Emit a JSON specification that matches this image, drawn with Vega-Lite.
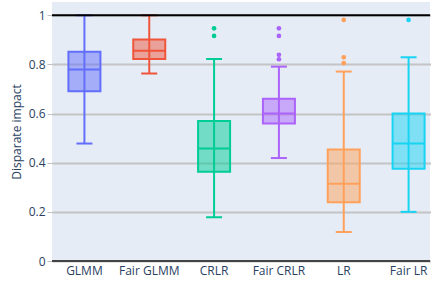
{
  "$schema": "https://vega.github.io/schema/vega-lite/v6.json",
  "autosize": {"type": "none"},
  "width": 378,
  "height": 259,
  "padding": {"left": 52, "top": 2, "right": 1, "bottom": 21},
  "background": "white",
  "config": {
    "view": {"fill": "#E5ECF6", "stroke": null},
    "font": "Open Sans",
    "axis": {"labelFont": "Open Sans", "titleFont": "Open Sans", "labelColor": "#2a3f5f", "titleColor": "#2a3f5f", "labelFontSize": 12, "titleFontSize": 12, "titleFontWeight": "normal"}
  },
  "datasets": {
    "boxes": [
      {"model": "GLMM", "lo": 0.478, "q1": 0.691, "med": 0.779, "q3": 0.852, "hi": 1.0},
      {"model": "Fair GLMM", "lo": 0.763, "q1": 0.822, "med": 0.856, "q3": 0.901, "hi": 1.0},
      {"model": "CRLR", "lo": 0.178, "q1": 0.363, "med": 0.458, "q3": 0.570, "hi": 0.822},
      {"model": "Fair CRLR", "lo": 0.419, "q1": 0.560, "med": 0.600, "q3": 0.660, "hi": 0.791},
      {"model": "LR", "lo": 0.118, "q1": 0.239, "med": 0.314, "q3": 0.454, "hi": 0.771},
      {"model": "Fair LR", "lo": 0.200, "q1": 0.375, "med": 0.478, "q3": 0.600, "hi": 0.829}
    ],
    "outliers": [
      {"model": "CRLR", "v": 0.947},
      {"model": "CRLR", "v": 0.916},
      {"model": "Fair CRLR", "v": 0.947},
      {"model": "Fair CRLR", "v": 0.916},
      {"model": "Fair CRLR", "v": 0.839},
      {"model": "Fair CRLR", "v": 0.821},
      {"model": "LR", "v": 0.981},
      {"model": "LR", "v": 0.829},
      {"model": "LR", "v": 0.805},
      {"model": "Fair LR", "v": 0.981}
    ],
    "lines": [
      {"y": 0, "kind": "zero"},
      {"y": 1, "kind": "one"}
    ]
  },
  "layer": [
    {
      "data": {"name": "boxes"},
      "mark": {"type": "rule", "strokeWidth": 2},
      "encoding": {
        "x": {"field": "model", "type": "nominal", "sort": null,
              "scale": {"range": [0, 389], "paddingInner": 0, "paddingOuter": 0},
              "axis": {"title": null, "domain": false, "ticks": false, "labelAngle": 0, "labelPadding": 4}},
        "y": {"field": "lo", "type": "quantitative",
              "scale": {"domain": [0, 1.054], "nice": false, "zero": false},
              "axis": {"title": "Disparate impact", "values": [0, 0.2, 0.4, 0.6, 0.8, 1], "format": ".1~f", "domain": false,
                       "tickColor": "#c0c0c0", "tickSize": 5, "tickWidth": 1, "labelPadding": 2,
                       "gridColor": "#c4c4c4", "gridWidth": 2, "titlePadding": 5}},
        "y2": {"field": "hi"},
        "color": {"field": "model", "type": "nominal", "sort": null, "legend": null,
                  "scale": {"domain": ["GLMM", "Fair GLMM", "CRLR", "Fair CRLR", "LR", "Fair LR"],
                            "range": ["#636efa", "#EF553B", "#00cc96", "#ab63fa", "#FFA15A", "#19d3f3"]}}
      }
    },
    {
      "data": {"name": "boxes"},
      "mark": {"type": "bar", "size": 32, "fillOpacity": 0.5, "strokeWidth": 2},
      "encoding": {
        "x": {"field": "model", "type": "nominal", "sort": null},
        "y": {"field": "q1", "type": "quantitative"},
        "y2": {"field": "q3"},
        "fill": {"field": "model", "type": "nominal", "sort": null, "legend": null,
                 "scale": {"domain": ["GLMM", "Fair GLMM", "CRLR", "Fair CRLR", "LR", "Fair LR"],
                           "range": ["#636efa", "#EF553B", "#00cc96", "#ab63fa", "#FFA15A", "#19d3f3"]}},
        "stroke": {"field": "model", "type": "nominal", "sort": null, "legend": null,
                   "scale": {"domain": ["GLMM", "Fair GLMM", "CRLR", "Fair CRLR", "LR", "Fair LR"],
                             "range": ["#636efa", "#EF553B", "#00cc96", "#ab63fa", "#FFA15A", "#19d3f3"]}}
      }
    },
    {
      "data": {"name": "boxes"},
      "mark": {"type": "tick", "size": 33, "thickness": 2, "opacity": 1},
      "encoding": {
        "x": {"field": "model", "type": "nominal", "sort": null},
        "y": {"field": "med", "type": "quantitative"},
        "color": {"field": "model", "type": "nominal", "sort": null, "legend": null}
      }
    },
    {
      "data": {"name": "boxes"},
      "mark": {"type": "tick", "size": 16, "thickness": 2, "opacity": 1},
      "encoding": {
        "x": {"field": "model", "type": "nominal", "sort": null},
        "y": {"field": "lo", "type": "quantitative"},
        "color": {"field": "model", "type": "nominal", "sort": null, "legend": null}
      }
    },
    {
      "data": {"name": "boxes"},
      "mark": {"type": "tick", "size": 16, "thickness": 2, "opacity": 1},
      "encoding": {
        "x": {"field": "model", "type": "nominal", "sort": null},
        "y": {"field": "hi", "type": "quantitative"},
        "color": {"field": "model", "type": "nominal", "sort": null, "legend": null}
      }
    },
    {
      "data": {"name": "outliers"},
      "mark": {"type": "circle", "size": 22, "opacity": 1},
      "encoding": {
        "x": {"field": "model", "type": "nominal", "sort": null},
        "y": {"field": "v", "type": "quantitative"},
        "color": {"field": "model", "type": "nominal", "sort": null, "legend": null}
      }
    },
    {
      "data": {"name": "lines"},
      "mark": {"type": "rule", "strokeWidth": 2},
      "encoding": {
        "y": {"field": "y", "type": "quantitative"},
        "stroke": {"field": "kind", "type": "nominal", "legend": null,
                   "scale": {"domain": ["zero", "one"], "range": ["#444444", "#000000"]}}
      }
    }
  ],
  "resolve": {"scale": {"stroke": "independent"}}
}
